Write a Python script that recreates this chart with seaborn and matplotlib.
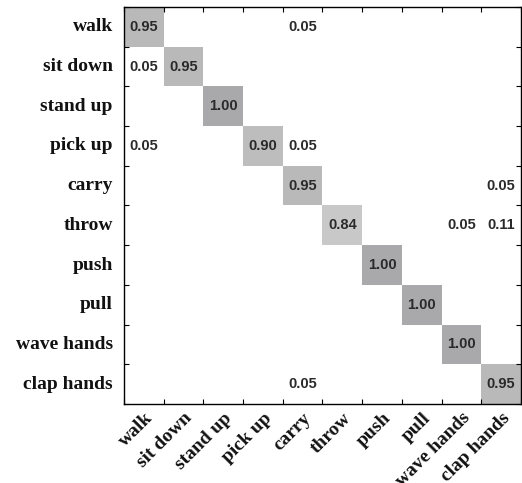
import numpy as np
import matplotlib
matplotlib.use("Agg")
import matplotlib.pyplot as plt
from matplotlib.colors import LinearSegmentedColormap
import seaborn as sns

# ── Data ────────────────────────────────────────────────────
actions = ["walk", "sit down", "stand up", "pick up", "carry",
           "throw", "push", "pull", "wave hands", "clap hands"]

walk = [0.95, 0, 0, 0, 0.05, 0, 0, 0, 0, 0]
sit_down = [0.05, 0.95, 0, 0, 0, 0, 0, 0, 0, 0]
stand_up = [0, 0, 1.00, 0, 0, 0, 0, 0, 0, 0]
pick_up = [0.05, 0, 0, 0.90, 0.05, 0, 0, 0, 0, 0]
carry = [0, 0, 0, 0, 0.95, 0, 0, 0, 0, 0.05]
throw = [0, 0, 0, 0, 0, 0.84, 0, 0, 0.05, 0.11]
push = [0, 0, 0, 0, 0, 0, 1.00, 0, 0, 0]
pull = [0, 0, 0, 0, 0, 0, 0, 1.00, 0, 0]
wave_hands = [0, 0, 0, 0, 0, 0, 0, 0, 1.00, 0]
clap_hands = [0, 0, 0, 0, 0.05, 0, 0, 0, 0, 0.95]

conf = np.array([walk, sit_down, stand_up, pick_up, carry,
                 throw, push, pull, wave_hands, clap_hands])

# labels: blank for empty cells
annot = np.array([[f"{v:.2f}" if v > 0 else "" for v in row] for row in conf])

# ── Style ───────────────────────────────────────────────────
sns.set_theme(style="ticks")
cmap = LinearSegmentedColormap.from_list(
    "grays",
    [(0.0, "#ffffff"), (0.5, "#ffffff"), (0.84, "#c9c9c9"),
     (0.90, "#bdbdbd"), (0.95, "#bababa"), (1.0, "#a9a9ab")],
)

fig = plt.figure(figsize=(5.22, 4.83), dpi=100)
ax = fig.add_axes([0.2375, 0.1636, 0.7605, 0.822])

sns.heatmap(
    conf, annot=annot, fmt="", cmap=cmap, vmin=0, vmax=1,
    cbar=False, square=False, ax=ax,
    xticklabels=actions, yticklabels=actions,
    annot_kws={"fontsize": 10.5, "fontweight": "bold", "color": "#2a2a2a",
               "family": "Liberation Sans"},
)

for s in ax.spines.values():
    s.set_visible(True)
    s.set_color("black")
    s.set_linewidth(1.0)

# labels at cell centres, small inward ticks at cell borders
ax.set_axisbelow(False)
ax.set_xticks(np.arange(11), minor=True)
ax.set_yticks(np.arange(11), minor=True)
ax.tick_params(axis="both", which="major", length=0)
ax.tick_params(axis="x", which="major", pad=4)
ax.tick_params(axis="y", which="major", pad=8)
ax.tick_params(which="minor", direction="in", length=3.5, width=0.8,
               color="black", top=True, right=True, bottom=True, left=True)

plt.setp(ax.get_yticklabels(), rotation=0, fontsize=14, fontweight="bold",
         family="Liberation Serif", color="#111111")
plt.setp(ax.get_xticklabels(), rotation=45, ha="right", rotation_mode="anchor",
         fontsize=14, fontweight="bold", family="Liberation Serif",
         color="#111111")

plt.savefig("out.png", dpi=100)
plt.close()
